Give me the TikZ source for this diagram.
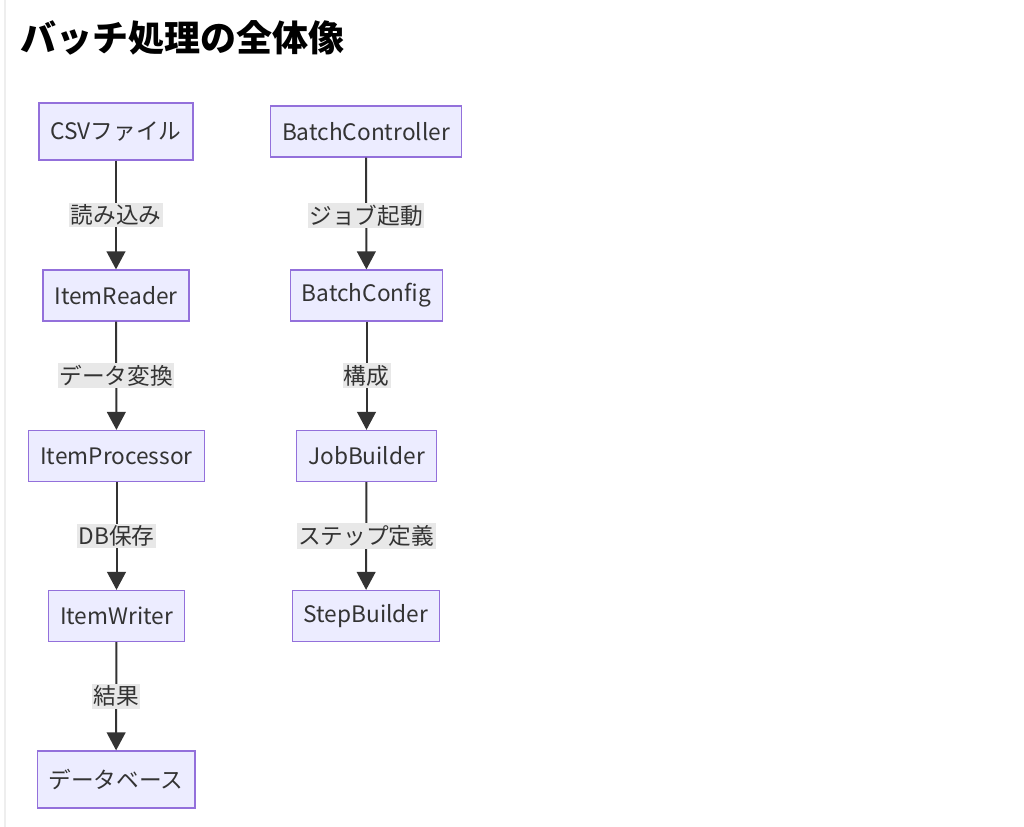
\documentclass[tikz,border=0pt]{standalone}
\usepackage{fontspec}
\setmainfont{Noto Sans CJK JP}
\usetikzlibrary{arrows.meta}
\definecolor{nodefill}{HTML}{ECECFF}
\definecolor{nodeborder}{HTML}{9370DB}
\definecolor{txt}{HTML}{333333}
\definecolor{lblbg}{HTML}{E8E8E8}
\definecolor{edgeline}{HTML}{333333}
\definecolor{sideline}{HTML}{EEEEEE}
\tikzset{
  box/.style={draw=nodeborder, fill=nodefill, line width=0.9pt, text=txt,
    inner xsep=8.6pt, inner ysep=0pt, minimum height=38.25pt,
    font=\fontsize{17pt}{20pt}\selectfont},
  tallbox/.style={box, minimum height=42.75pt},
  lbl/.style={fill=lblbg, text=txt, inner xsep=1pt, inner ysep=1.5pt,
    font=\fontsize{17pt}{20pt}\selectfont},
  edge/.style={draw=edgeline, line width=1.5pt,
    -{Triangle[length=13.5pt,width=14pt]}},
}
\begin{document}
\begin{tikzpicture}[x=0.75pt,y=-0.75pt]
\useasboundingbox (0,0) rectangle (1024,827);
\fill[white] (0,0) rectangle (1024,827);
\draw[sideline, line width=1.5pt] (5,0) -- (5,827);
\node[anchor=west, text=black, font=\fontsize{27pt}{31pt}\selectfont\bfseries, inner sep=0pt] (title) at (20,38) {バッチ処理の全体像};

\node[tallbox] (csv) at (116,131.5) {CSVファイル};
\node[box] (ir) at (116,295.5) {ItemReader};
\node[box] (ip) at (116.5,456) {ItemProcessor};
\node[box] (iw) at (116.5,616) {ItemWriter};
\node[tallbox] (db) at (116,779.5) {データベース};

\node[box] (bc) at (366,131.5) {BatchController};
\node[box] (bcfg) at (366.5,295.5) {BatchConfig};
\node[box] (jb) at (366.5,456) {JobBuilder};
\node[box] (sb) at (366,616) {StepBuilder};

\draw[edge] (csv) -- node[lbl] {読み込み} (ir);
\draw[edge] (ir) -- node[lbl] {データ変換} (ip);
\draw[edge] (ip) -- node[lbl] {DB保存} (iw);
\draw[edge] (iw) -- node[lbl] {結果} (db);

\draw[edge] (bc) -- node[lbl, pos=0.52] {ジョブ起動} (bcfg);
\draw[edge] (bcfg) -- node[lbl] {構成} (jb);
\draw[edge] (jb) -- node[lbl] {ステップ定義} (sb);
\end{tikzpicture}
\end{document}
